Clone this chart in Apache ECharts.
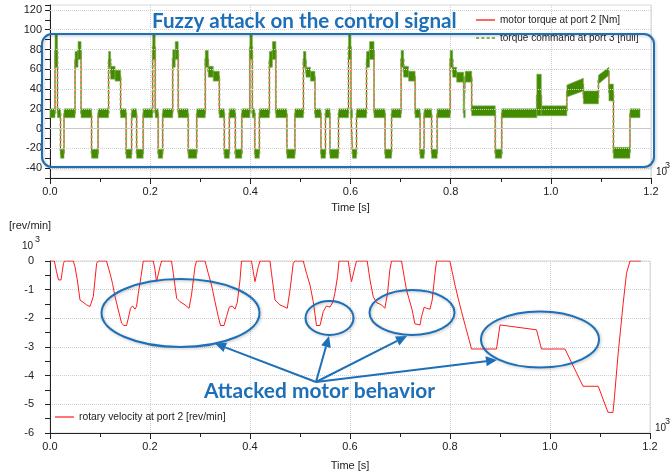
<!DOCTYPE html>
<html>
<head>
<meta charset="utf-8">
<script src="https://cdn.jsdelivr.net/npm/echarts@6/dist/echarts.min.js"></script>
<style>
  html, body { margin: 0; padding: 0; background: #fff; }
  #chart { width: 670px; height: 474px; }
</style>
</head>
<body>
<div id="chart"></div>
<script>
// top plot: torque command band, one row per segment [t0, t1, low, high, (lowEnd, highEnd)]
var torqueBands = [
  [0.000, 0.010, 11, 20], [0.010, 0.015, 62, 95], [0.015, 0.021, 11, 20], [0.021, 0.028, -30, -21],
  [0.028, 0.050, 11, 20], [0.050, 0.056, 62, 78], [0.056, 0.062, 70, 88], [0.062, 0.083, 11, 20],
  [0.083, 0.096, -30, -21], [0.096, 0.117, 11, 20], [0.117, 0.121, 62, 78], [0.121, 0.130, 50, 63],
  [0.130, 0.141, 48, 59], [0.141, 0.152, 11, 20], [0.152, 0.163, -30, -21], [0.163, 0.173, 11, 20],
  [0.173, 0.186, -30, -21], [0.186, 0.205, 11, 20], [0.205, 0.210, 70, 95], [0.210, 0.216, 11, 20],
  [0.216, 0.225, -30, -21], [0.225, 0.245, 11, 20], [0.245, 0.250, 62, 80], [0.250, 0.256, 70, 88],
  [0.256, 0.276, 11, 20], [0.276, 0.293, -30, -21], [0.293, 0.310, 11, 20], [0.310, 0.316, 62, 79],
  [0.316, 0.326, 52, 63], [0.326, 0.338, 48, 58], [0.338, 0.348, 11, 20], [0.348, 0.358, -30, -21],
  [0.358, 0.370, 11, 20], [0.370, 0.383, -30, -21], [0.383, 0.399, 11, 20], [0.399, 0.404, 70, 95],
  [0.404, 0.409, 11, 20], [0.409, 0.418, -30, -21], [0.418, 0.438, 11, 20], [0.438, 0.444, 62, 78],
  [0.444, 0.451, 70, 88], [0.451, 0.473, 11, 20], [0.473, 0.489, -30, -21], [0.489, 0.506, 11, 20],
  [0.506, 0.511, 62, 78], [0.511, 0.520, 52, 62], [0.520, 0.529, 48, 58], [0.529, 0.541, 11, 20],
  [0.541, 0.550, -30, -21], [0.550, 0.559, 11, 20], [0.559, 0.576, -30, -21], [0.576, 0.596, 11, 20],
  [0.596, 0.601, 70, 95], [0.601, 0.604, 11, 20], [0.604, 0.612, -30, -21], [0.612, 0.632, 11, 20],
  [0.632, 0.638, 62, 78], [0.638, 0.647, 70, 88], [0.647, 0.669, 11, 20], [0.669, 0.682, -30, -21],
  [0.682, 0.701, 11, 20], [0.701, 0.706, 62, 79], [0.706, 0.716, 52, 63], [0.716, 0.729, 48, 58],
  [0.729, 0.739, 11, 20], [0.739, 0.747, -30, -21], [0.747, 0.762, 11, 20], [0.762, 0.773, -30, -21],
  [0.773, 0.799, 11, 20], [0.799, 0.804, 62, 79], [0.804, 0.812, 52, 62], [0.812, 0.826, 47, 57],
  [0.826, 0.829, 11, 20], [0.829, 0.842, 47, 58], [0.842, 0.889, 13, 23], [0.889, 0.902, -30, -21],
  [0.902, 0.972, 11, 20], [0.972, 0.981, 13, 55], [0.981, 1.032, 13, 23], [1.032, 1.065, 32, 44, 38, 51],
  [1.065, 1.095, 25, 38], [1.095, 1.116, 45, 54, 54, 62], [1.116, 1.125, 28, 45], [1.125, 1.158, -30, -19],
  [1.158, 1.178, 11, 20]
];
var topGridLines = [-40, -20, 0, 20, 40, 60, 80, 100, 120];

// bottom plot: rotary velocity, x10^3 rev/min
var velTime = [0, 0.0087, 0.013, 0.017, 0.020, 0.022, 0.024, 0.027, 0.029, 0.0466, 0.050, 0.0546, 0.060, 0.0633, 0.0733, 0.080, 0.0833, 0.0866, 0.0933, 0.0966,
  0.113, 0.120, 0.125, 0.130, 0.1366, 0.1433, 0.148, 0.153, 0.1566, 0.161, 0.165, 0.170, 0.173, 0.1766, 0.182, 0.1866,
  0.2066, 0.210, 0.213, 0.2166, 0.220, 0.2233, 0.243, 0.2466, 0.2533, 0.260, 0.270, 0.278, 0.283, 0.290, 0.293,
  0.310, 0.3165, 0.323, 0.330, 0.3365, 0.341, 0.348, 0.353, 0.3585, 0.3645, 0.370, 0.3745, 0.380, 0.383,
  0.403, 0.4065, 0.410, 0.413, 0.4165, 0.420, 0.440, 0.443, 0.450, 0.460, 0.470, 0.4745, 0.480, 0.4865, 0.490,
  0.5065, 0.513, 0.520, 0.5265, 0.533, 0.540, 0.5465, 0.553, 0.560, 0.566, 0.5697, 0.575, 0.578,
  0.5964, 0.600, 0.603, 0.6064, 0.610, 0.613, 0.6344, 0.640, 0.6464, 0.653, 0.663, 0.6697, 0.675, 0.6797, 0.683,
  0.703, 0.7084, 0.713, 0.7177, 0.7244, 0.7297, 0.733, 0.740, 0.7431, 0.7484, 0.753, 0.760, 0.7644, 0.770, 0.7731,
  0.7997, 0.8043, 0.810, 0.8163, 0.823, 0.831, 0.8364, 0.843, 0.893, 0.900, 0.973, 0.983, 1.030, 1.066, 1.0965,
  1.116, 1.126, 1.129, 1.1364, 1.1464, 1.153, 1.160, 1.1817];
var velValue = [0, 0, -0.37, -0.66, -0.72, -0.66, -0.43, -0.08, 0, 0, -0.2, -0.66, -1.36, -1.42, -1.53, -1.59, -1.65, -1.24, -0.08, 0,
  0, -0.43, -0.78, -1.24, -1.71, -2.17, -2.25, -2.25, -2.0, -1.65, -1.57, -1.68, -1.59, -1.13, -0.55, 0,
  0, -0.31, -0.72, -0.66, -0.2, 0, 0, -0.43, -1.3, -1.42, -1.53, -1.65, -1.18, -0.2, 0,
  0, -0.43, -0.84, -1.42, -1.94, -2.25, -2.25, -1.94, -1.61, -1.57, -1.68, -1.45, -0.66, 0,
  0, -0.37, -0.72, -0.66, -0.2, 0, 0, -0.43, -1.36, -1.53, -1.61, -1.65, -1.01, -0.08, 0,
  0, -0.43, -0.84, -1.42, -2.25, -2.25, -1.76, -1.57, -1.61, -1.42, -1.13, -0.55, 0,
  0, -0.43, -0.72, -0.66, -0.2, 0, 0, -0.66, -1.24, -1.45, -1.53, -1.65, -1.13, -0.31, 0,
  0, -0.55, -1.01, -1.3, -1.71, -2.19, -2.25, -2.23, -1.94, -1.61, -1.65, -1.68, -1.36, -0.43, 0,
  0, -0.37, -0.84, -1.3, -1.76, -2.29, -2.63, -3.07, -3.07, -2.23, -2.4, -3.07, -3.07, -4.37, -4.37,
  -5.28, -5.28, -4.72, -3.21, -1.47, -0.43, 0, 0];

var blue = '#1d6fb8';
var axisColor = '#222';
var labelFont = 'Liberation Sans';
var lineIcon = 'path://M0,0h19v1.2h-19z';
var dashIcon = 'path://M0,0h3v1.2h-3zM5,0h3v1.2h-3zM10,0h3v1.2h-3zM15,0h3v1.2h-3z';

var bandData = torqueBands.map(function (s) {
  return [s[0], s[1], s[2], s[3], s.length > 4 ? s[4] : s[2], s.length > 4 ? s[5] : s[3]];
});
var torqueLine = [];
torqueBands.forEach(function (s) {
  var m0 = (s[2] + s[3]) / 2;
  var m1 = s.length > 4 ? (s[4] + s[5]) / 2 : m0;
  torqueLine.push([s[0], m0], [s[1], m1]);
});
var velData = velTime.map(function (t, i) { return [t, velValue[i]]; });

function arrow(x1, y1, x2, y2) {
  var dx = x2 - x1, dy = y2 - y1, len = Math.sqrt(dx * dx + dy * dy);
  var ux = dx / len, uy = dy / len, h = 11, w = 5;
  var bx = x2 - ux * h, by = y2 - uy * h;
  return [
    { type: 'line', shape: { x1: x1, y1: y1, x2: bx, y2: by }, style: { stroke: blue, lineWidth: 2 }, z: 100 },
    { type: 'polygon', shape: { points: [[x2, y2], [bx - uy * w, by + ux * w], [bx + uy * w, by - ux * w]] }, style: { fill: blue }, z: 100 }
  ];
}
function ellipse(cx, cy, rx, ry) {
  return { type: 'ellipse', shape: { cx: cx, cy: cy, rx: rx, ry: ry },
    style: { fill: 'none', stroke: blue, lineWidth: 2, shadowBlur: 3, shadowColor: 'rgba(0,0,0,0.25)', shadowOffsetX: 1, shadowOffsetY: 1 }, z: 100 };
}
function smallText(x, y, text, size) {
  return { type: 'text', x: x, y: y, style: { text: text, font: size + 'px ' + labelFont, fill: axisColor, verticalAlign: 'middle' }, z: 100 };
}

var graphics = [
  { type: 'rect', shape: { x: 42, y: 34, width: 612, height: 133, r: 10 },
    style: { fill: 'none', stroke: blue, lineWidth: 2, shadowBlur: 3, shadowColor: 'rgba(0,0,0,0.25)', shadowOffsetX: 1, shadowOffsetY: 1 }, z: 100 },
  { type: 'text', x: 152, y: 21, style: { text: 'Fuzzy attack on the control signal', font: 'bold 20.6px Lato', fill: blue, verticalAlign: 'middle' }, z: 100 },
  ellipse(180.5, 313, 79, 34),
  ellipse(329.5, 318, 24, 17),
  ellipse(412, 312.5, 42.5, 22.5),
  ellipse(540, 339.5, 59, 28),
  { type: 'text', x: 204, y: 391, style: { text: 'Attacked motor behavior', font: 'bold 20.9px Lato', fill: blue, verticalAlign: 'middle' }, z: 100 },
  smallText(656, 172, '10', 10), smallText(665, 166, '3', 9),
  smallText(655, 428, '10', 10), smallText(665, 422, '3', 9),
  smallText(22, 246, '10', 10), smallText(35, 240, '3', 9),
  smallText(9, 226, '[rev/min]', 11)
];
[[215, 343.5], [329, 336], [407, 336], [497, 360]].forEach(function (p) {
  graphics = graphics.concat(arrow(316, 382, p[0], p[1]));
});

function xAxisOpt(idx, nameGap) {
  return {
    type: 'value', gridIndex: idx, min: 0, max: 1.2, interval: 0.2,
    name: 'Time [s]', nameLocation: 'middle', nameGap: nameGap,
    nameTextStyle: { fontSize: 11, color: axisColor, fontFamily: labelFont },
    axisLine: { show: true, onZero: false, lineStyle: { color: axisColor, width: 1 } },
    axisTick: { show: true, length: 6, lineStyle: { color: axisColor } },
    minorTick: { show: true, splitNumber: 2, length: 4, lineStyle: { color: axisColor } },
    axisLabel: { fontSize: 11, color: axisColor, fontFamily: labelFont, margin: 8,
      formatter: function (v) { return v.toFixed(1); } },
    splitLine: { show: true, lineStyle: { color: '#cfcfcf', type: 'dotted' } }
  };
}

var chart = echarts.init(document.getElementById('chart'));
chart.setOption({
  animation: false,
  backgroundColor: '#fff',
  grid: [
    { left: 50, right: 19, top: 5, bottom: 296, show: true, borderColor: '#d8d8d8', borderWidth: 1, containLabel: false, outerBoundsMode: 'none' },
    { left: 50, right: 20, top: 261, bottom: 41, show: true, borderColor: '#d8d8d8', borderWidth: 1, containLabel: false, outerBoundsMode: 'none' }
  ],
  legend: [
    { data: [{ name: 'motor torque at port 2 [Nm]', icon: lineIcon }, { name: 'torque command at port 3 [null]', icon: dashIcon }],
      orient: 'vertical', left: 476, top: 15, padding: 0, itemWidth: 19, itemHeight: 12, itemGap: 8, selectedMode: false,
      textStyle: { fontSize: 10, color: axisColor, fontFamily: labelFont } },
    { data: [{ name: 'rotary velocity at port 2 [rev/min]', icon: lineIcon }], left: 55, top: 412, padding: 0, itemWidth: 19, itemHeight: 12,
      selectedMode: false, textStyle: { fontSize: 10.3, color: axisColor, fontFamily: labelFont } }
  ],
  xAxis: [xAxisOpt(0, 24), xAxisOpt(1, 27)],
  yAxis: [
    { type: 'value', gridIndex: 0, min: -50, max: 125, interval: 10,
      axisLine: { show: true, lineStyle: { color: axisColor } },
      axisTick: { show: true, length: 5, lineStyle: { color: axisColor } },
      axisLabel: { fontSize: 11, color: axisColor, fontFamily: labelFont, margin: 8,
        formatter: function (v) { return v % 20 === 0 ? String(v) : ''; } },
      splitLine: { show: false } },
    { type: 'value', gridIndex: 1, min: -6, max: 0, interval: 1,
      axisLine: { show: true, lineStyle: { color: axisColor } },
      axisTick: { show: true, length: 5, lineStyle: { color: axisColor } },
      minorTick: { show: true, splitNumber: 2, length: 5, lineStyle: { color: axisColor } },
      axisLabel: { fontSize: 11, color: axisColor, fontFamily: labelFont, margin: 16 },
      splitLine: { show: true, lineStyle: { color: '#cfcfcf', type: 'dotted' } } }
  ],
  series: [
    { name: 'motor torque at port 2 [Nm]', type: 'line', xAxisIndex: 0, yAxisIndex: 0, data: torqueLine,
      symbol: 'none', z: 2, lineStyle: { color: '#ff0000', width: 1 }, itemStyle: { color: '#ff0000' },
      markLine: { silent: true, symbol: 'none', label: { show: false }, animation: false,
        lineStyle: { color: '#d0d0d0', type: 'dotted', width: 1 },
        data: topGridLines.map(function (v) {
          return v === 0 ? { yAxis: v, lineStyle: { type: 'solid', color: '#c8c8c8' } } : { yAxis: v };
        }) } },
    { name: 'torque command at port 3 [null]', type: 'line', xAxisIndex: 0, yAxisIndex: 0, data: torqueLine,
      symbol: 'none', z: 3, lineStyle: { color: '#7fb650', width: 2, type: [3, 2] }, itemStyle: { color: '#5d9e2a' } },
    { type: 'custom', xAxisIndex: 0, yAxisIndex: 0, data: bandData, z: 4, silent: true,
      encode: { x: [0, 1], y: [2, 3, 4, 5] },
      renderItem: function (params, api) {
        var p = [
          api.coord([api.value(0), api.value(3)]), api.coord([api.value(1), api.value(5)]),
          api.coord([api.value(1), api.value(4)]), api.coord([api.value(0), api.value(2)])
        ];
        return { type: 'polygon', shape: { points: p }, style: { fill: '#438c00', stroke: '#78ad50', lineWidth: 0.6 } };
      } },
    { name: 'rotary velocity at port 2 [rev/min]', type: 'line', xAxisIndex: 1, yAxisIndex: 1, data: velData,
      symbol: 'none', lineStyle: { color: '#ff1a1a', width: 1 }, itemStyle: { color: '#ff1a1a' } }
  ],
  graphic: graphics
});
</script>
</body>
</html>
